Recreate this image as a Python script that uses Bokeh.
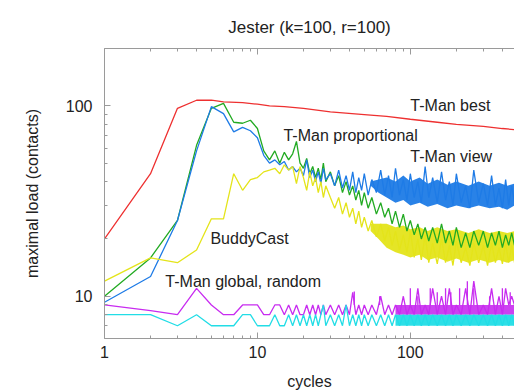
from bokeh.plotting import figure
from bokeh.models import LogAxis, FixedTicker, Label, NumeralTickFormatter
from bokeh.embed import file_html
from bokeh.resources import INLINE

# ---------------- data ----------------
x_major = [1, 10, 100]
x_minor = [2, 3, 4, 5, 6, 7, 8, 9, 20, 30, 40, 50, 60, 70, 80, 90, 200, 300, 400]
y_major = [10, 100]
y_minor = [6, 7, 8, 9, 20, 30, 40, 50, 60, 70, 80, 90, 200]

early_cycles = [1, 2, 3, 4, 5, 6, 7, 8, 9, 10, 11]
noisy_cycles = [12, 13, 14, 15, 16, 17, 18, 19, 20, 21, 22, 23, 24, 25, 26, 27, 28,
                30, 32, 34, 36, 38, 40, 42, 44, 46, 48, 50,
                53, 56, 60, 64, 68, 72, 76, 80,
                85, 90, 95, 100, 106, 112, 118, 125, 132, 140,
                150, 160, 170, 180, 190, 200, 215, 230, 245, 260,
                280, 300, 320, 340, 360, 380, 400, 420, 440, 460, 480]

best_cycles = [1, 2, 3, 4, 5, 6, 8, 10, 12, 15, 20, 30, 50, 70, 100, 150, 200, 300, 400, 480]
best_load = [20, 44, 97, 107, 107, 105, 104, 102, 100, 99, 97, 93, 90, 88, 85, 82, 80, 78, 76, 75]

prop_early = [10, 15.9, 25, 62, 97, 103, 82, 81, 84, 76, 58]
prop_noisy = [52, 58, 50, 57, 52, 56, 65, 50, 47, 53, 44, 48, 42, 47, 41, 50, 40,
              45, 38, 43, 35, 40, 34, 38, 32, 36, 30, 35,
              29, 33, 27, 31, 26, 29, 24, 28,
              23, 27, 22, 25, 21, 24, 20, 23, 19.5, 23,
              19, 24, 19, 22, 18.5, 23, 18, 21.5, 18, 22,
              18.5, 22, 18, 21.5, 18.5, 22, 18, 21, 18.5, 21.5, 18.5]

view_early = [9.3, 12.7, 25, 58, 99, 91, 73, 77, 74, 68, 55]
view_noisy = [50, 52, 49, 51, 46, 48, 45, 47, 43, 52, 42, 46, 40, 45, 39, 47, 41,
              44, 38, 46, 37, 43, 36, 45, 35, 42, 36, 44,
              34, 41, 35, 46, 34, 43, 33, 47,
              34, 41, 32, 44, 33, 40, 31, 48, 33, 42,
              31, 45, 32, 40, 30, 44, 31, 38, 29, 46,
              31, 39, 30, 43, 30, 37, 29, 41, 30, 38, 31]

buddy_early = [12, 15.9, 15, 17.5, 25.5, 25.5, 44, 36, 41, 42, 45]
buddy_noisy = [46, 47, 44, 49, 46, 48, 39, 48, 42, 36, 45, 38, 42, 35, 40, 33, 38,
               33, 29, 33, 27, 31, 26, 29, 24, 28, 23, 26,
               22, 25, 20.5, 24, 19.5, 23, 18.5, 22,
               17.5, 21, 17, 22, 16, 20, 15.5, 21, 15, 19,
               14.8, 20, 15, 18.5, 14.5, 19.5, 15, 18, 14.5, 19,
               15, 18.5, 14.5, 19, 15, 18, 14.8, 19, 15, 18.5, 15]

global_early = [9, 8.4, 8, 11, 9, 8, 8, 9, 9, 9, 8]
global_noisy = [8, 9, 9, 8, 9, 8, 9, 8, 8, 9, 8, 9, 8, 9, 8, 9, 8,
                9, 8, 9, 8, 9, 8, 10.5, 8, 9, 8, 9,
                8, 9, 8, 10, 8, 9, 8, 9,
                8, 10, 8, 9, 8, 11, 8, 9, 8, 11,
                8, 10, 8, 11, 8, 9, 8, 11, 8, 12,
                8, 9, 8, 11, 8, 10, 8, 11, 9, 10, 9]

random_early = [8, 8, 7, 8, 7, 7, 7, 8, 8, 7, 7]
random_noisy = [7, 8, 7, 7, 8, 7, 8, 7, 8, 7, 8, 7, 8, 7, 8, 9, 7,
                8, 7, 8, 7, 9, 7, 8, 7, 8, 7, 8,
                7, 8, 7, 8, 7, 8, 7, 8,
                7, 8, 7, 8, 7, 8, 7, 8, 7, 8,
                7, 8, 7, 8, 7, 8, 7, 8, 7, 8,
                7, 8, 7, 8, 7, 8, 7, 8, 7, 8, 7]

# dense tail envelopes (hundreds of cycles overlap visually)
band_cycles = [55, 62, 70, 80, 90, 100, 115, 130, 150, 175, 200, 240, 280, 330, 380, 430, 480]
view_lo = [38, 35, 33, 31, 32, 30, 31, 29.5, 30.5, 29, 30, 29, 30, 29, 29.5, 28.5, 30]
view_hi = [40, 41, 42, 40, 43, 40, 42, 39, 41, 38.5, 40, 38, 40, 38, 39.5, 38, 39]
buddy_lo = [22, 20, 18, 17, 16.5, 16, 16.5, 15.5, 16, 15.2, 15.8, 15, 15.6, 15, 15.5, 15, 15.5]
buddy_hi = [24, 24, 24, 23, 23.5, 22.5, 23, 22, 23, 22, 22.5, 21.5, 22.5, 21.5, 22, 21.5, 22]
flat_cycles = [80, 480]
global_lo = [8, 8]
global_hi = [9, 9]
random_lo = [7, 7]
random_hi = [8, 8]

spike_cycles = [43, 63, 100, 112, 135, 150, 170, 184, 210, 236, 260, 330, 400, 450]
spike_peaks = [10.6, 10, 11, 10, 11, 10.5, 11, 10.5, 11, 12, 11, 10, 11, 10.5]
spike_base = [9, 9, 9, 9, 9, 9, 9, 9, 9, 9, 9, 9, 9, 9]

# ---------------- style ----------------
FONT = "Liberation Sans"
TXT = "#222222"
AX = "#9a9a9a"
RED = "#EE3030"
GREEN = "#22AA22"
BLUE = "#1E7BE6"
YELLOW = "#E4E41A"
MAGENTA = "#C82CF0"
CYAN = "#22DDE6"
LW = 1.3

p = figure(width=514, height=392, x_axis_type="log", y_axis_type="log",
           x_range=(1, 480), y_range=(6, 200), output_backend="svg",
           toolbar_location=None, min_border_left=104, min_border_right=0,
           min_border_top=48, min_border_bottom=52,
           title="Jester (k=100, r=100)")
p.outline_line_color = None
p.grid.visible = False
p.background_fill_color = "white"
p.border_fill_color = "white"

p.title.text_font = FONT
p.title.text_font_size = "17px"
p.title.text_font_style = "normal"
p.title.text_color = TXT
p.title.align = "center"
p.title.vertical_align = "top"
p.title.standoff = 20

p.xaxis.ticker = FixedTicker(ticks=x_major, minor_ticks=x_minor)
p.yaxis.ticker = FixedTicker(ticks=y_major, minor_ticks=y_minor)
p.xaxis.formatter = NumeralTickFormatter(format="0")
p.yaxis.formatter = NumeralTickFormatter(format="0")
p.xaxis.axis_label = "cycles"
p.yaxis.axis_label = "maximal load (contacts)"

for ax in (p.xaxis[0], p.yaxis[0]):
    ax.axis_line_color = AX
    ax.major_tick_line_color = AX
    ax.minor_tick_line_color = AX
    ax.major_tick_in = 6
    ax.major_tick_out = 0
    ax.minor_tick_in = 3
    ax.minor_tick_out = 0
    ax.major_label_text_font = FONT
    ax.major_label_text_font_size = "16px"
    ax.major_label_text_color = TXT
    ax.axis_label_text_font = FONT
    ax.axis_label_text_font_size = "16px"
    ax.axis_label_text_font_style = "normal"
    ax.axis_label_text_color = TXT

p.xaxis.major_label_standoff = 7
p.xaxis.axis_label_standoff = 12
p.yaxis.major_label_standoff = 12
p.yaxis.axis_label_standoff = 22

top = LogAxis(ticker=FixedTicker(ticks=x_major, minor_ticks=x_minor),
              axis_line_color=AX, major_tick_line_color=AX, minor_tick_line_color=AX,
              major_tick_in=6, major_tick_out=0, minor_tick_in=3, minor_tick_out=0,
              major_label_text_font_size="2px", major_label_text_alpha=0,
              major_label_standoff=0)
p.add_layout(top, "above")

# ---------------- series ----------------
p.line(best_cycles, best_load, line_color=RED, line_width=LW)
p.varea(x=band_cycles, y1=buddy_lo, y2=buddy_hi, fill_color=YELLOW, fill_alpha=0.95)
p.line(early_cycles + noisy_cycles, prop_early + prop_noisy, line_color=GREEN, line_width=LW)
p.varea(x=band_cycles, y1=view_lo, y2=view_hi, fill_color=BLUE, fill_alpha=0.95)
p.line(early_cycles + noisy_cycles, view_early + view_noisy, line_color=BLUE, line_width=LW)
p.line(early_cycles + noisy_cycles, buddy_early + buddy_noisy, line_color=YELLOW, line_width=LW)
p.varea(x=flat_cycles, y1=global_lo, y2=global_hi, fill_color=MAGENTA, fill_alpha=0.9)
p.segment(x0=spike_cycles, y0=spike_base, x1=spike_cycles, y1=spike_peaks,
          line_color=MAGENTA, line_width=LW)
p.line(early_cycles + noisy_cycles, global_early + global_noisy, line_color=MAGENTA, line_width=LW)
p.varea(x=flat_cycles, y1=random_lo, y2=random_hi, fill_color=CYAN, fill_alpha=0.95)
p.line(early_cycles + noisy_cycles, random_early + random_noisy, line_color=CYAN, line_width=LW)

# ---------------- labels ----------------
labels = [
    (100, 100, "T-Man best"),
    (14.8, 70, "T-Man proportional"),
    (100, 54.5, "T-Man view"),
    (4.93, 20.2, "BuddyCast"),
    (2.5, 12.0, "T-Man global, random"),
]
for lx, ly, txt in labels:
    p.add_layout(Label(x=lx, y=ly, text=txt, text_baseline="middle",
                       text_font=FONT, text_font_size="16px", text_color=TXT))

open("out.html", "w").write(file_html(p, INLINE))
